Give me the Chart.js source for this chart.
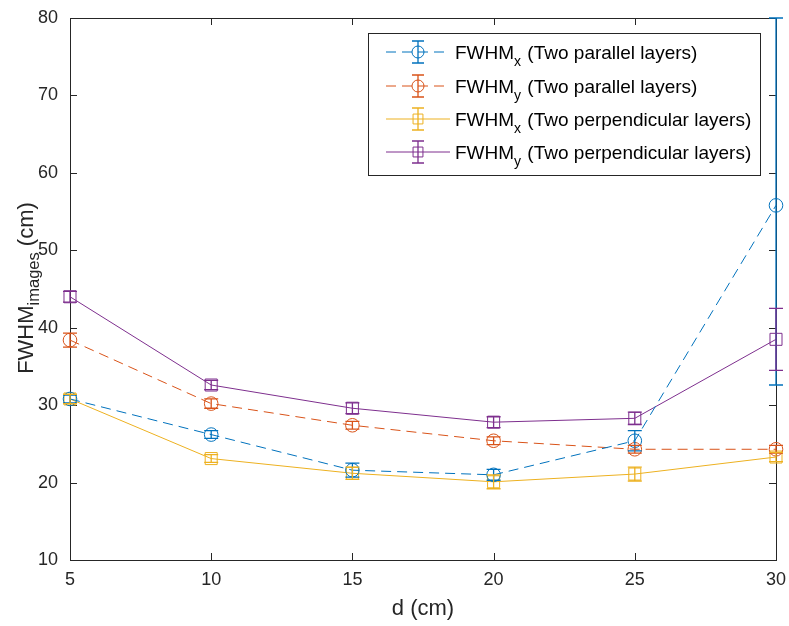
<!DOCTYPE html>
<html><head><meta charset="utf-8">
<script src="https://cdn.jsdelivr.net/npm/chart.js@4.4.0/dist/chart.umd.min.js"></script>
<style>html,body{margin:0;padding:0;background:#fff}#wrap{width:789px;height:626px;position:relative}</style>
</head><body><div id="wrap"><canvas id="c" width="789" height="626"></canvas></div>
<script>
const distances = [5, 10, 15, 20, 25, 30];
const xTicks = [5, 10, 15, 20, 25, 30];
const yTicks = [10, 20, 30, 40, 50, 60, 70, 80];

const fwhmXParallel = [30.8, 26.2, 21.6, 21.0, 25.4, 55.8];
const fwhmXParallelErrMinus = [0.5, 0.5, 0.9, 0.7, 1.3, 23.2];
const fwhmXParallelErrPlus  = [0.5, 0.5, 0.9, 0.7, 1.3, 24.2];

const fwhmYParallel = [38.4, 30.2, 27.4, 25.4, 24.3, 24.3];
const fwhmYParallelErrMinus = [0.9, 0.6, 0.5, 0.5, 0.5, 0.5];
const fwhmYParallelErrPlus  = [0.9, 0.6, 0.5, 0.5, 0.5, 0.5];

const fwhmXPerp = [30.8, 23.1, 21.2, 20.1, 21.1, 23.3];
const fwhmXPerpErrMinus = [0.6, 0.5, 0.8, 0.9, 0.9, 0.6];
const fwhmXPerpErrPlus  = [0.6, 0.5, 0.8, 0.9, 0.9, 0.6];

const fwhmYPerp = [44.0, 32.6, 29.6, 27.8, 28.3, 38.5];
const fwhmYPerpErrMinus = [0.7, 0.6, 0.7, 0.7, 0.8, 4.0];
const fwhmYPerpErrPlus  = [0.7, 0.6, 0.7, 0.7, 0.8, 4.0];

const legendSubs = ['x', 'y', 'x', 'y'];
const legendRest = [' (Two parallel layers)', ' (Two parallel layers)', ' (Two perpendicular layers)', ' (Two perpendicular layers)'];

const FONT = '"Liberation Sans", Arial, Helvetica, sans-serif';
const AX = '#262626';

function mk(label, vals, em, ep, color, style, dash, radius) {
  return {
    label, data: vals.map((v, i) => ({x: distances[i], y: v})),
    errMinus: em, errPlus: ep,
    borderColor: color, backgroundColor: 'rgba(0,0,0,0)',
    borderWidth: 1, borderDash: dash,
    pointStyle: style, pointRadius: radius, pointBorderWidth: 1,
    pointBorderColor: color, pointBackgroundColor: 'rgba(0,0,0,0)',
    pointHoverRadius: radius, tension: 0, clip: false, fill: false
  };
}

const datasets = [
  mk('FWHMx (Two parallel layers)', fwhmXParallel, fwhmXParallelErrMinus, fwhmXParallelErrPlus, '#0072BD', 'circle', [10, 6], 6.8),
  mk('FWHMy (Two parallel layers)', fwhmYParallel, fwhmYParallelErrMinus, fwhmYParallelErrPlus, '#D95319', 'circle', [10, 6], 6.8),
  mk('FWHMx (Two perpendicular layers)', fwhmXPerp, fwhmXPerpErrMinus, fwhmXPerpErrPlus, '#EDB120', 'rect', [], 8.5),
  mk('FWHMy (Two perpendicular layers)', fwhmYPerp, fwhmYPerpErrMinus, fwhmYPerpErrPlus, '#7E2F8E', 'rect', [], 8.5)
];

function drawMarker(ctx, style, x, y, r, color) {
  ctx.save();
  ctx.strokeStyle = color; ctx.lineWidth = 1; ctx.setLineDash([]);
  ctx.beginPath();
  if (style === 'circle') ctx.arc(x, y, r, 0, Math.PI * 2);
  else { const s = Math.SQRT1_2 * r; ctx.rect(x - s, y - s, 2 * s, 2 * s); }
  ctx.stroke();
  ctx.restore();
}

function drawErr(ctx, x, yTop, yBot, color, cap) {
  ctx.save();
  ctx.strokeStyle = color; ctx.lineWidth = 1.3; ctx.setLineDash([]);
  ctx.beginPath();
  ctx.moveTo(x, yTop); ctx.lineTo(x, yBot);
  ctx.moveTo(x - cap, yTop); ctx.lineTo(x + cap, yTop);
  ctx.moveTo(x - cap, yBot); ctx.lineTo(x + cap, yBot);
  ctx.stroke();
  ctx.restore();
}

const matlabPlugin = {
  id: 'matlab',
  beforeDatasetsDraw(chart) {
    const ctx = chart.ctx, xs = chart.scales.x, ys = chart.scales.y, a = chart.chartArea;
    ctx.save();
    ctx.strokeStyle = AX; ctx.lineWidth = 1; ctx.setLineDash([]);
    ctx.strokeRect(a.left + 0.5, a.top + 0.5, a.right - a.left, a.bottom - a.top);
    ctx.beginPath();
    const tl = 7;
    xTicks.forEach(v => {
      const px = Math.round(xs.getPixelForValue(v)) + 0.5;
      ctx.moveTo(px, a.bottom); ctx.lineTo(px, a.bottom - tl);
      ctx.moveTo(px, a.top); ctx.lineTo(px, a.top + tl);
    });
    yTicks.forEach(v => {
      const py = Math.round(ys.getPixelForValue(v)) + 0.5;
      ctx.moveTo(a.left, py); ctx.lineTo(a.left + tl, py);
      ctx.moveTo(a.right, py); ctx.lineTo(a.right - tl, py);
    });
    ctx.stroke();
    ctx.restore();

    ctx.save();
    ctx.fillStyle = AX;
    ctx.font = '22px ' + FONT;
    ctx.textAlign = 'center'; ctx.textBaseline = 'alphabetic';
    ctx.fillText('d (cm)', (a.left + a.right) / 2, 615);
    ctx.translate(33, 288);
    ctx.rotate(-Math.PI / 2);
    const main = 'FWHM', sub = 'images', rest = ' (cm)';
    ctx.font = '22px ' + FONT; const w1 = ctx.measureText(main).width; const w3 = ctx.measureText(rest).width;
    ctx.font = '16.5px ' + FONT; const w2 = ctx.measureText(sub).width;
    let sx = -(w1 + w2 + w3) / 2;
    ctx.textAlign = 'left';
    ctx.font = '22px ' + FONT; ctx.fillText(main, sx, 0); sx += w1;
    ctx.font = '16.5px ' + FONT; ctx.fillText(sub, sx, 6); sx += w2;
    ctx.font = '22px ' + FONT; ctx.fillText(rest, sx, 0);
    ctx.restore();
  },
  afterDatasetsDraw(chart) {
    const ctx = chart.ctx, xs = chart.scales.x, ys = chart.scales.y;
    chart.data.datasets.forEach(ds => {
      ds.data.forEach((p, i) => {
        const px = xs.getPixelForValue(p.x);
        const yT = ys.getPixelForValue(Math.min(p.y + ds.errPlus[i], 80));
        const yB = ys.getPixelForValue(p.y - ds.errMinus[i]);
        drawErr(ctx, px, yT, yB, ds.borderColor, 7);
      });
    });

    ctx.save();
    const lx = 368, ly = 33, lw = 392, lh = 142;
    ctx.fillStyle = '#fff'; ctx.fillRect(lx, ly, lw, lh);
    ctx.strokeStyle = AX; ctx.lineWidth = 1;
    ctx.strokeRect(lx + 0.5, ly + 0.5, lw, lh);
    const rows = [52, 86, 119, 152];
    chart.data.datasets.forEach((ds, i) => {
      const y = rows[i];
      ctx.save();
      ctx.strokeStyle = ds.borderColor; ctx.lineWidth = 1; ctx.setLineDash(ds.borderDash);
      ctx.beginPath(); ctx.moveTo(386, y); ctx.lineTo(450, y); ctx.stroke();
      ctx.restore();
      drawErr(ctx, 418, y - 11, y + 11, ds.borderColor, 6);
      drawMarker(ctx, ds.pointStyle, 418, y, ds.pointStyle === 'circle' ? 6 : 7, ds.borderColor);
      ctx.fillStyle = '#000';
      ctx.textAlign = 'left'; ctx.textBaseline = 'alphabetic';
      ctx.font = '19px ' + FONT;
      let tx = 455;
      ctx.fillText('FWHM', tx, y + 7); tx += ctx.measureText('FWHM').width;
      ctx.font = '14px ' + FONT;
      ctx.fillText(legendSubs[i], tx, y + 14); tx += ctx.measureText(legendSubs[i]).width + 1;
      ctx.font = '19px ' + FONT;
      ctx.fillText(legendRest[i], tx, y + 7);
    });
    ctx.restore();
  }
};

new Chart(document.getElementById('c'), {
  type: 'line',
  data: { datasets },
  options: {
    responsive: false, animation: false, devicePixelRatio: 1,
    layout: { padding: { left: 0, right: 13, top: 18, bottom: 0 } },
    plugins: { legend: { display: false }, tooltip: { enabled: false } },
    scales: {
      x: {
        type: 'linear', min: 5, max: 30,
        afterBuildTicks: s => { s.ticks = xTicks.map(v => ({value: v})); },
        afterFit: s => { s.height = 66; s.paddingLeft = 0; s.paddingRight = 0; },
        grid: { display: false, drawTicks: false }, border: { display: false },
        ticks: { padding: 9, color: AX, font: { family: FONT, size: 18 }, maxRotation: 0 }
      },
      y: {
        type: 'linear', min: 10, max: 80,
        afterBuildTicks: s => { s.ticks = yTicks.map(v => ({value: v})); },
        afterFit: s => { s.width = 70; s.paddingTop = 0; s.paddingBottom = 0; },
        grid: { display: false, drawTicks: false }, border: { display: false },
        ticks: { padding: 12, color: AX, font: { family: FONT, size: 18 } }
      }
    }
  },
  plugins: [matlabPlugin]
});
</script></body></html>
